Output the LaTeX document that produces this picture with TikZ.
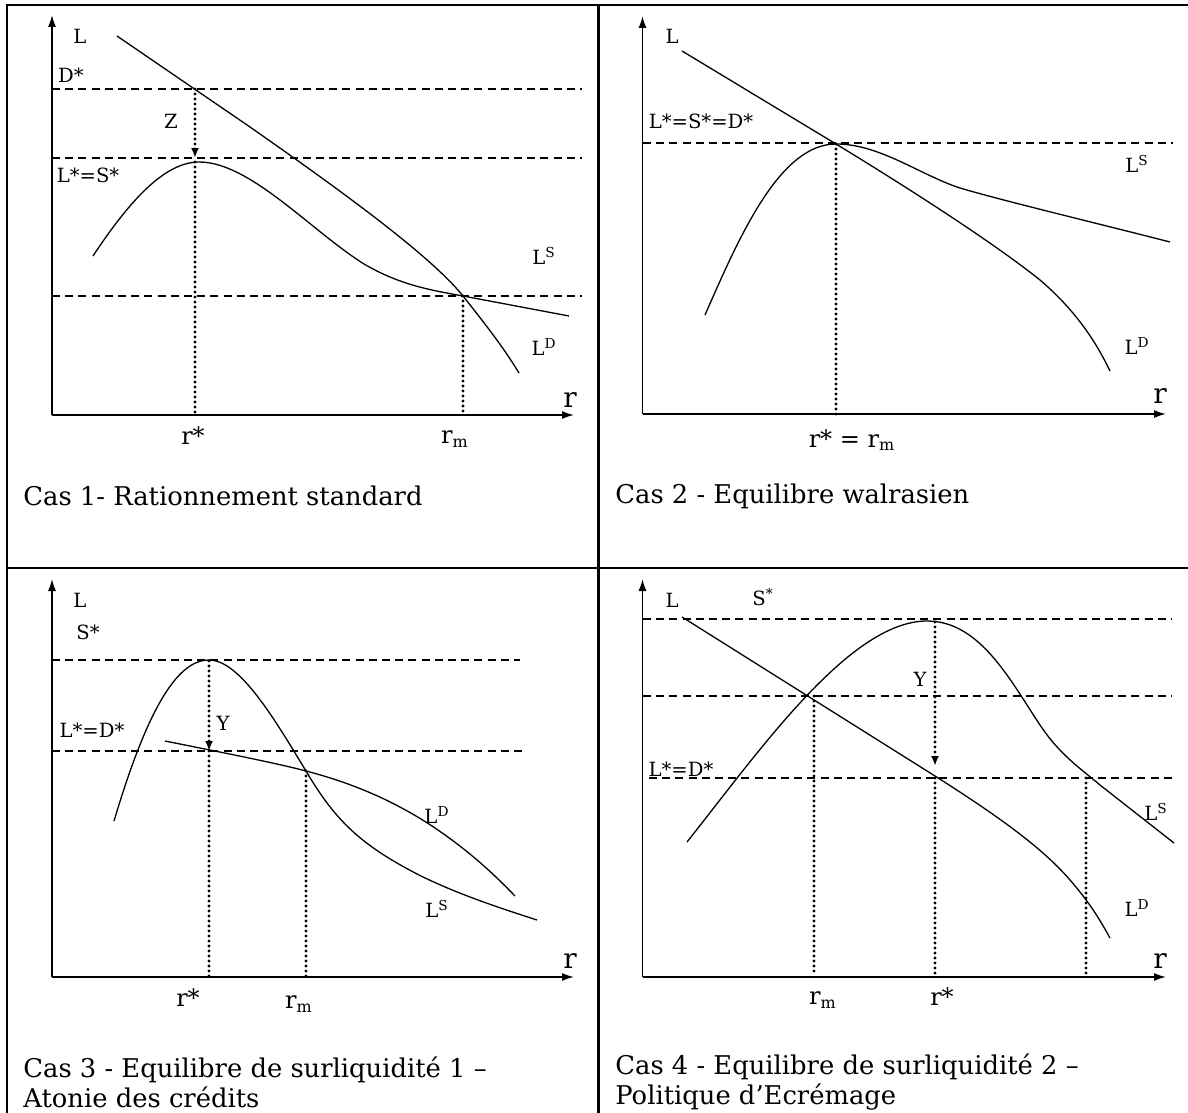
\documentclass[tikz,border=0pt]{standalone}
\usepackage{fontspec}
\setmainfont{DejaVu Serif}
\usetikzlibrary{arrows.meta}

\begin{document}
\begin{tikzpicture}[
  x=0.5pt, y=-0.5pt,
  frame/.style={line width=1.1pt},
  axis/.style={-{Latex[length=6pt, width=4pt]}, line width=0.8pt},
  curve/.style={line width=0.65pt},
  guide/.style={line width=0.7pt, dash pattern=on 4pt off 2.6pt},
  drop/.style={line width=1.6pt, line cap=round, dash pattern=on 0pt off 2.5pt},
  droparrow/.style={drop, -{Latex[length=5pt, width=4pt]}},
  lbl/.style={font=\fontsize{9.8}{11}\selectfont, inner sep=0pt},
  tick/.style={font=\fontsize{12}{14}\selectfont, inner sep=0pt},
  axlbl/.style={font=\fontsize{14}{16}\selectfont, inner sep=0pt},
  caption/.style={font=\fontsize{12.9}{15}\selectfont, anchor=west, align=left, inner sep=0pt},
]
\useasboundingbox (0,0) rectangle (1188,1113);

% ---------------------------------------------------------------
% Grid: 2x2 panels, pixel units, y pointing down
% ---------------------------------------------------------------
\draw[frame] (7,1113) -- (7,5) -- (1188,5);
\draw[frame] (7,568) -- (1188,568);
\draw[frame] (598.5,5) -- (598.5,1113);

% ===== Cas 1: rationnement standard =====
\coordinate (o1) at (52,415);
\draw[axis] (o1) -- (52,15);
\draw[axis] (o1) -- (574,415);

\draw[guide] (52,89) -- (582,89);
\draw[guide] (52,158) -- (582,158);
\draw[guide] (52,296) -- (582,296);

% demande L^D
\draw[curve] (117,36) -- (250,127) .. controls (340,190) and (430,255) .. (463,296)
  .. controls (490,330) and (505,350) .. (519,373);
% offre L^S
\draw[curve] (93,256) .. controls (130,200) and (165,162) .. (199,162)
  .. controls (250,162) and (310,230) .. (364,264)
  .. controls (400,285) and (430,290) .. (463,296) -- (569,316);

\coordinate (d1) at (195,89);
\coordinate (s1) at (195,158);
\coordinate (p1) at (195,162);
\coordinate (m1) at (463,296);
\draw[droparrow] (d1) -- (s1);
\draw[drop] (p1) -- (p1 |- o1);
\draw[drop] (m1) -- (m1 |- o1);

\node[lbl] (L1) at (80,36) {L};
\node[lbl] (Dstar1) at (71,75) {D*};
\node[lbl] (Z1) at (171,121) {Z};
\node[lbl] (LS1) at (88,175) {L*=S*};
\node[lbl] (LSlab1) at (544,256) {L\textsuperscript{S}};
\node[lbl] (LDlab1) at (544,347) {L\textsuperscript{D}};
\node[axlbl] (r1) at (570,400) {r};
\node[tick] (rs1) at (193,436) {r*};
\node[tick] (rm1) at (455,439) {r\textsubscript{m}};
\node[caption] (cap1) at (23,496) {Cas 1- Rationnement standard};

% ===== Cas 2: equilibre walrasien =====
\coordinate (o2) at (642.5,414);
\draw[axis] (o2) -- (642.5,16);
\draw[axis] (o2) -- (1166,414);

\draw[guide] (643,143) -- (1173,143);

% demande L^D
\draw[curve] (682,51) -- (836,144) .. controls (900,183) and (990,240) .. (1040,280)
  .. controls (1075,310) and (1095,340) .. (1110,371);
% offre L^S
\draw[curve] (705,315) .. controls (740,235) and (780,144) .. (836,144)
  .. controls (880,144) and (920,175) .. (960,188)
  .. controls (1000,200) and (1100,224) .. (1170,242);

\coordinate (p2) at (836,144);
\draw[drop] (p2) -- (p2 |- o2);

\node[lbl] (L2) at (672,36) {L};
\node[lbl] (LSD2) at (701,121) {L*=S*=D*};
\node[lbl] (LSlab2) at (1137,164) {L\textsuperscript{S}};
\node[lbl] (LDlab2) at (1137,346) {L\textsuperscript{D}};
\node[axlbl] (r2) at (1160,396) {r};
\node[tick] (rsm2) at (852,440) {r* = r\textsubscript{m}};
\node[caption] (cap2) at (615,496) {Cas 2 - Equilibre walrasien};

% ===== Cas 3: surliquidite 1 =====
\coordinate (o3) at (52,977);
\draw[axis] (o3) -- (52,579);
\draw[axis] (o3) -- (574,977);

\draw[guide] (52,660) -- (520,660);
\draw[guide] (52,751) -- (526,751);

% offre L^S
\draw[curve] (114,821) .. controls (150,700) and (180,660) .. (209,660)
  .. controls (240,660) and (275,720) .. (306,771)
  .. controls (335,820) and (360,845) .. (421,876)
  .. controls (460,895) and (500,908) .. (537,920);
% demande L^D
\draw[curve] (165,741) .. controls (230,754) and (280,764) .. (306,771)
  .. controls (360,785) and (400,805) .. (432,826)
  .. controls (465,848) and (490,870) .. (515,896);

\coordinate (p3) at (209,661);
\coordinate (d3) at (209,751);
\coordinate (m3) at (306,771);
\draw[droparrow] (p3) -- (d3);
\draw[drop] (d3) -- (d3 |- o3);
\draw[drop] (m3) -- (m3 |- o3);

\node[lbl] (L3) at (80,600) {L};
\node[lbl] (Sstar3) at (88,632) {S*};
\node[lbl] (LD3) at (92,730) {L*=D*};
\node[lbl] (Y3) at (223,723) {Y};
\node[lbl] (LDlab3) at (437,815) {L\textsuperscript{D}};
\node[lbl] (LSlab3) at (437,909) {L\textsuperscript{S}};
\node[axlbl] (r3) at (570,961) {r};
\node[tick] (rs3) at (188,998) {r*};
\node[tick] (rm3) at (299,1004) {r\textsubscript{m}};
\node[caption] (cap3) at (23,1082)
  {Cas 3 - Equilibre de surliquidité 1 –\\Atonie des crédits};

% ===== Cas 4: surliquidite 2 =====
\coordinate (o4) at (642.5,977);
\draw[axis] (o4) -- (642.5,579);
\draw[axis] (o4) -- (1166,977);

\draw[guide] (643,619) -- (1172,619);
\draw[guide] (643,696) -- (1172,696);
\draw[guide] (649,778) -- (1172,778);

% demande L^D
\draw[curve] (682,617) -- (935,776) .. controls (990,811) and (1040,845) .. (1070,880)
  .. controls (1090,903) and (1100,920) .. (1110,938);
% offre L^S
\draw[curve] (687,842) .. controls (760,750) and (850,621) .. (927,621)
  .. controls (980,621) and (1010,680) .. (1040,725)
  .. controls (1060,755) and (1080,768) .. (1100,785) -- (1174,843);

\coordinate (p4) at (935,622);
\coordinate (a4) at (935,766);
\coordinate (d4) at (935,778);
\coordinate (m4) at (814,696);
\coordinate (e4) at (1086,778);
\draw[droparrow] (p4) -- (a4);
\draw[drop] (d4) -- (d4 |- o4);
\draw[drop] (m4) -- (814,972);
\draw[drop] (e4) -- (e4 |- o4);

\node[lbl] (L4) at (672,600) {L};
\node[lbl] (Sstar4) at (763,597) {S\textsuperscript{*}};
\node[lbl] (LD4) at (681,769) {L*=D*};
\node[lbl] (Y4) at (920,679) {Y};
\node[lbl] (LSlab4) at (1156,812) {L\textsuperscript{S}};
\node[lbl] (LDlab4) at (1137,908) {L\textsuperscript{D}};
\node[axlbl] (r4) at (1160,961) {r};
\node[tick] (rm4) at (823,1000) {r\textsubscript{m}};
\node[tick] (rs4) at (942,997) {r*};
\node[caption] (cap4) at (615,1082)
  {Cas 4 - Equilibre de surliquidité 2 –\\Politique d'Ecrémage};

\end{tikzpicture}
\end{document}
